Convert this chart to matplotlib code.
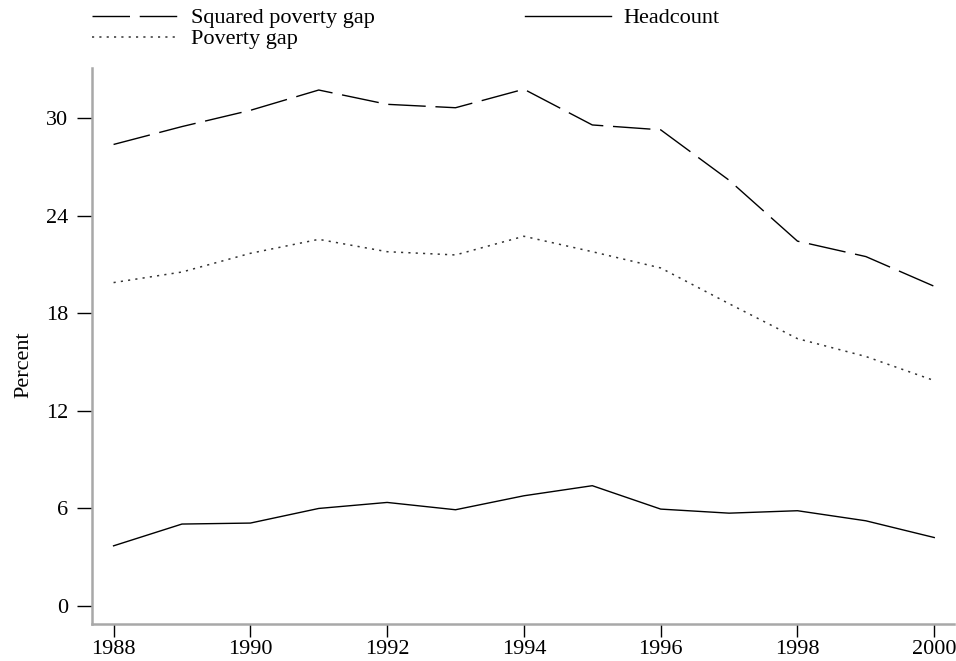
import matplotlib
matplotlib.use('Agg')
import matplotlib.pyplot as plt

years = [1988, 1989, 1990, 1991, 1992, 1993, 1994, 1995, 1996, 1997, 1998, 1999, 2000]
squared_gap = [28.4, 29.5, 30.5, 31.75, 30.87, 30.66, 31.8, 29.6, 29.3, 26.2, 22.45, 21.5, 19.67]
poverty_gap = [19.9, 20.55, 21.7, 22.56, 21.8, 21.6, 22.75, 21.8, 20.8, 18.6, 16.45, 15.35, 13.87]
headcount = [3.7, 5.04, 5.1, 6.0, 6.37, 5.92, 6.78, 7.4, 5.96, 5.71, 5.86, 5.24, 4.21]

y_ticks = [0, 6, 12, 18, 24, 30]
x_ticks = [1988, 1990, 1992, 1994, 1996, 1998, 2000]

plt.rcParams['font.family'] = ['Liberation Serif', 'DejaVu Serif']

fig = plt.figure(figsize=(9.56, 6.61), dpi=100)
ax = fig.add_axes([0.0959, 0.056, 0.9021, 0.841])

# lines
ax.plot(years, squared_gap, color='black', linewidth=1.0, dashes=(27, 7),
        label='Squared poverty gap')
ax.plot(years, poverty_gap, color='#333333', linewidth=1.1, dashes=(1.4, 3.4),
        label='Poverty gap')
ax.plot(years, headcount, color='black', linewidth=1.0, label='Headcount')

ax.set_xlim(1987.68, 2000.29)
ax.set_ylim(-1.11, 33.1)
ax.set_xticks(x_ticks)
ax.set_yticks(y_ticks)

# axis styling
for side in ['top', 'right']:
    ax.spines[side].set_visible(False)
for side in ['left', 'bottom']:
    ax.spines[side].set_color('#a8a8a8')
    ax.spines[side].set_linewidth(1.8)
ax.tick_params(axis='y', direction='out', length=11, width=1.0, color='black',
               pad=6, labelsize=16)
ax.tick_params(axis='x', direction='out', length=9.5, width=1.0, color='black',
               pad=2, labelsize=16)

ax.set_ylabel('Percent', fontsize=16)
ax.yaxis.set_label_coords(-0.068, 0.466)

# legend on top
handles, labels = ax.get_legend_handles_labels()
fig.legend(handles, labels, ncol=2, loc='upper left',
           bbox_to_anchor=(0.096, 0.988), frameon=False, fontsize=16,
           handlelength=3.9, handletextpad=0.55, columnspacing=6.75,
           labelspacing=0.02, borderpad=0, borderaxespad=0)

fig.savefig('out.png', dpi=100)
plt.close('all')
